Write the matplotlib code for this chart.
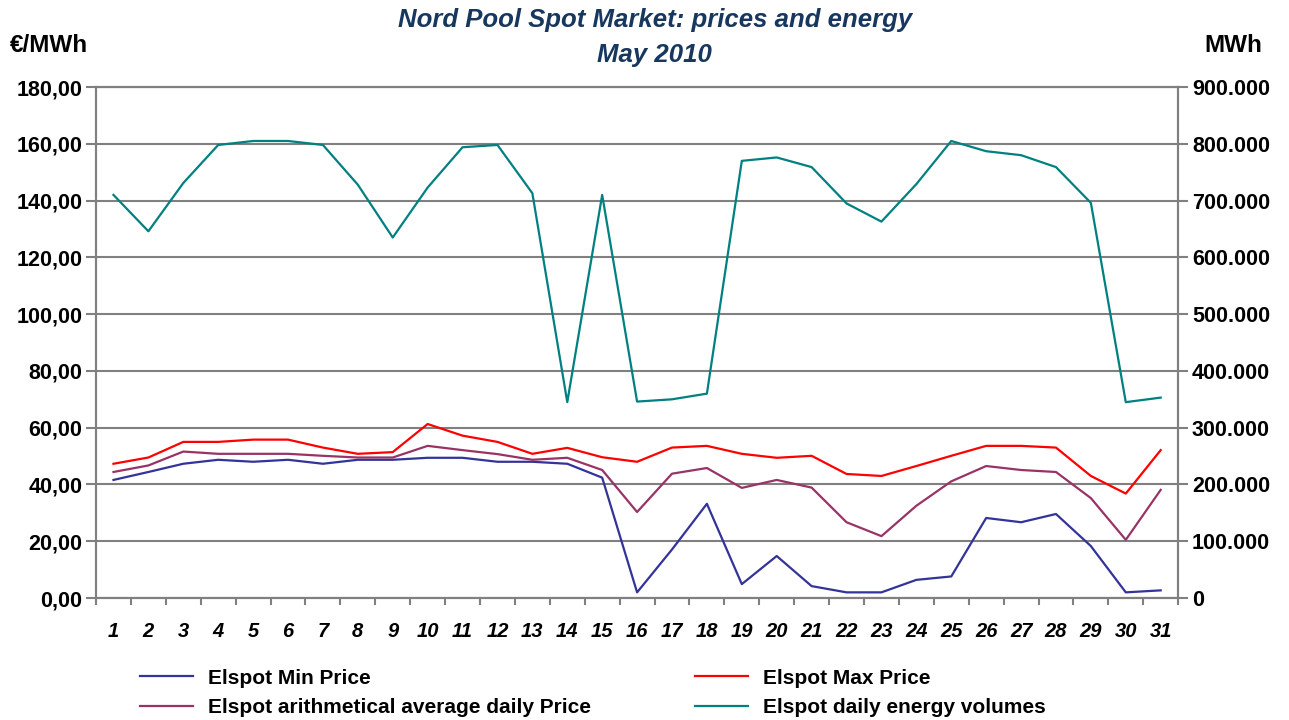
import matplotlib.pyplot as plt
import matplotlib.ticker as mticker

plt.rcParams['font.family'] = ['Liberation Sans', 'DejaVu Sans']

days = list(range(1, 32))

min_price = [41.6, 44.4, 47.3, 48.7, 48.0, 48.7, 47.3, 48.7, 48.7, 49.4,
             49.4, 48.0, 48.0, 47.3, 42.4, 2.0, 17.1, 33.2, 4.9, 14.8,
             4.2, 2.0, 2.0, 6.4, 7.6, 28.2, 26.7, 29.6, 18.3, 2.0, 2.7]
max_price = [47.3, 49.5, 55.0, 55.0, 55.8, 55.8, 53.0, 50.8, 51.4, 61.3,
             57.2, 55.0, 50.8, 52.9, 49.6, 48.0, 53.0, 53.6, 50.8, 49.4,
             50.1, 43.7, 43.0, 46.5, 50.1, 53.6, 53.6, 53.0, 43.0, 36.8, 52.1]
avg_price = [44.4, 46.7, 51.6, 50.8, 50.8, 50.8, 50.1, 49.5, 49.5, 53.6,
             52.1, 50.7, 48.7, 49.4, 45.1, 30.3, 43.8, 45.8, 38.8, 41.6,
             38.9, 26.7, 21.8, 32.5, 41.1, 46.5, 45.1, 44.4, 35.2, 20.5, 38.1]
volume = [710000, 646000, 731000, 798000, 805000, 805000, 798000, 728000, 635000, 723000,
          794000, 798000, 713000, 345000, 710000, 346000, 350000, 360000, 770000, 776000,
          759000, 695000, 663000, 729000, 805000, 787000, 780000, 759000, 696000, 345000, 353000]

grid_col = '#808080'

fig = plt.figure(figsize=(12.89, 7.2), dpi=100)
ax = fig.add_axes([0.0745, 0.1694, 0.8395, 0.7097])
ax2 = ax.twinx()

l_min, = ax.plot(days, min_price, color='#333399', lw=1.6, label='Elspot Min Price')
l_max, = ax.plot(days, max_price, color='#FF0000', lw=1.6, label='Elspot Max Price')
l_avg, = ax.plot(days, avg_price, color='#993366', lw=1.6, label='Elspot arithmetical average daily Price')
l_vol, = ax2.plot(days, volume, color='#008080', lw=1.6, label='Elspot daily energy volumes')

ax.set_xlim(0.5, 31.5)
ax.set_ylim(0, 180)
ax2.set_ylim(0, 900000)
ax.set_yticks(range(0, 181, 20))
ax2.set_yticks(range(0, 900001, 100000))
ax.yaxis.set_major_formatter(mticker.FuncFormatter(lambda v, p: f'{v:.2f}'.replace('.', ',')))
ax2.yaxis.set_major_formatter(mticker.FuncFormatter(lambda v, p: f'{int(v):,}'.replace(',', '.')))

ax.set_xticks(days)
ax.set_xticklabels([str(d) for d in days], fontsize=14.5, fontweight='bold', fontstyle='italic')
ax.set_xticks([d + 0.5 for d in range(0, 32)], minor=True)
ax.tick_params(axis='x', which='major', length=0, pad=17)
ax.tick_params(axis='x', which='minor', length=5, color=grid_col, width=1.5)

for a in (ax, ax2):
    a.tick_params(axis='y', length=7, color=grid_col, width=1.5, labelsize=15.5, pad=3)
    for lab in a.get_yticklabels():
        lab.set_fontweight('bold')
    for s in a.spines.values():
        s.set_color(grid_col)
        s.set_linewidth(1.5)

ax.grid(axis='y', color=grid_col, lw=1.5)
ax.set_axisbelow(True)

fig.text(0.508, 0.972, 'Nord Pool Spot Market: prices and energy', ha='center', va='center',
         fontsize=18.5, fontweight='bold', fontstyle='italic', color='#17375E')
fig.text(0.508, 0.924, 'May 2010', ha='center', va='center',
         fontsize=18.5, fontweight='bold', fontstyle='italic', color='#17375E')
fig.text(0.008, 0.937, '€/MWh', ha='left', va='center', fontsize=17.5, fontweight='bold')
fig.text(0.979, 0.937, 'MWh', ha='right', va='center', fontsize=17.5, fontweight='bold')

fig.legend([l_min, l_avg, l_max, l_vol],
           [l_min.get_label(), l_avg.get_label(), l_max.get_label(), l_vol.get_label()],
           loc='lower left', bbox_to_anchor=(0.094, -0.022), ncol=2, frameon=False,
           prop={'weight': 'bold', 'size': 15}, handlelength=2.55, handletextpad=0.72,
           columnspacing=5.0, labelspacing=0.5)

fig.savefig('out.png', dpi=100)
